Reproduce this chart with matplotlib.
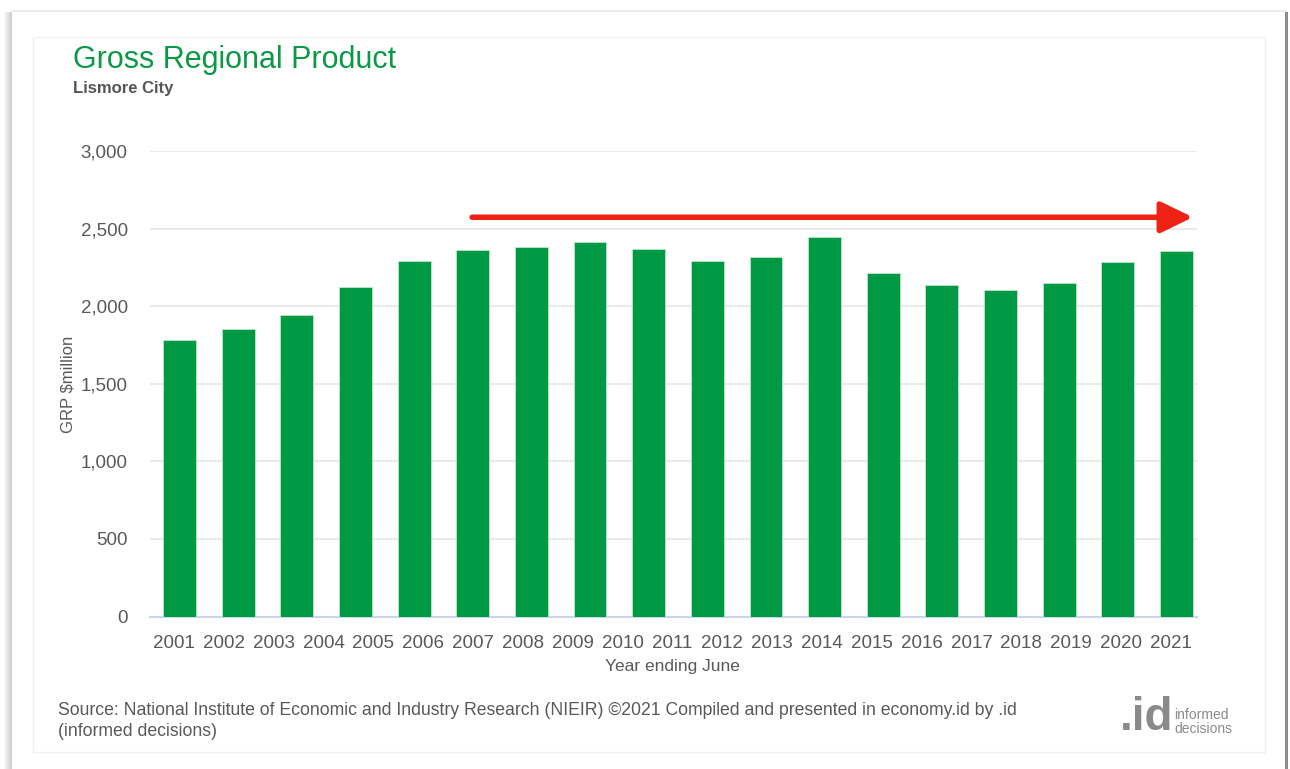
import numpy as np
import matplotlib
matplotlib.use("Agg")
import matplotlib.pyplot as plt
from matplotlib.patches import Rectangle, FancyArrowPatch

# ---- data ----
grp_values = [1785, 1853, 1942, 2125, 2291, 2360, 2381, 2416, 2371, 2291,
              2315, 2448, 2216, 2138, 2106, 2151, 2282, 2358]
year_labels = [str(y) for y in range(2001, 2022)]
y_ticks = [0, 500, 1000, 1500, 2000, 2500, 3000]
y_ticklabels = ["0", "500", "1,000", "1,500", "2,000", "2,500", "3,000"]

title = "Gross Regional Product"
subtitle = "Lismore City"
x_title = "Year ending June"
y_title = "GRP $million"
source = ("Source: National Institute of Economic and Industry Research (NIEIR) \u00a92021 "
          "Compiled and presented in economy.id by .id\n(informed decisions)")

plt.rcParams['font.family'] = ['Liberation Sans', 'DejaVu Sans']

W, H = 1290, 769
fig = plt.figure(figsize=(W / 100, H / 100), dpi=100)
fig.patch.set_facecolor("white")

def fx(px):
    return px / W

def fy(py):
    return 1 - py / H

# ---- card decoration ----
bg = fig.add_axes([0, 0, 1, 1])
bg.set_xlim(0, W)
bg.set_ylim(H, 0)
bg.axis("off")
for i, a in enumerate(np.linspace(0.05, 0.35, 8)):
    bg.add_patch(Rectangle((4 + i, 12), 1, H, color=(0.45, 0.45, 0.45), alpha=a, lw=0))
bg.add_patch(Rectangle((12, 10), 1274, 2, color="#ececec", lw=0))
bg.add_patch(Rectangle((1285, 12), 3, H, color="#8c8c8c", lw=0))
bg.add_patch(Rectangle((33, 37), 1232, 715, fill=False, edgecolor="#f0f0f0", lw=1))

# ---- main axes ----
left, right = 150, 1197
top, bottom = 151, 616.5
ax = fig.add_axes([fx(left), fy(bottom), fx(right - left), fy(top) - fy(bottom)])
ax.set_facecolor("none")

x = np.arange(len(grp_values))
ax.bar(x, grp_values, width=0.56, color="#009944", edgecolor="#bfe5cc",
       linewidth=0.6, zorder=3)

ax.set_xlim(-0.503, 17.35)
ax.set_ylim(0, 3000)
ax.set_yticks(y_ticks)
ax.set_yticklabels(y_ticklabels)
ax.grid(axis="y", color="#e6e6e6", linewidth=1.2, zorder=0)
ax.set_axisbelow(True)

# year labels spread evenly across the axis (as in the reference)
label_pos = np.linspace(-0.094, 16.905, len(year_labels))
ax.set_xticks(label_pos)
ax.set_xticklabels(year_labels)

for s in ["top", "right", "left"]:
    ax.spines[s].set_visible(False)
ax.spines["bottom"].set_color("#ccd6eb")
ax.spines["bottom"].set_linewidth(1.5)
ax.tick_params(axis="y", length=0, pad=16, labelsize=13.5, labelcolor="#595959")
ax.tick_params(axis="x", length=0, pad=13, labelsize=13.5, labelcolor="#595959")

# trend arrow
arr = FancyArrowPatch((4.99, 2573), (17.28, 2573),
                      arrowstyle="-|>,head_length=1.4,head_width=0.68",
                      mutation_scale=14, color="#ee2316", lw=4.0, zorder=5,
                      shrinkA=0, shrinkB=0)
ax.add_patch(arr)

# ---- texts ----
fig.text(fx(73), fy(60), title, color="#0a9a46", fontsize=22, va="center", ha="left")
fig.text(fx(73), fy(88), subtitle, color="#555555", fontsize=12, fontweight="bold",
         va="center", ha="left")
fig.text(fx(672), fy(666), x_title, color="#595959", fontsize=12.5, ha="center", va="center")
fig.text(fx(68), fy(384), y_title, color="#595959", fontsize=12, ha="center", va="center",
         rotation=90)
fig.text(fx(58), fy(721), source, color="#595959", fontsize=12.7, ha="left", va="center",
         linespacing=1.3)

# logo
fig.text(fx(1120), fy(718), ".id", color="#8a8a8a", fontsize=33, fontweight="bold",
         ha="left", va="center")
fig.text(fx(1174), fy(722), "informed\ndecisions", color="#8a8a8a", fontsize=10,
         ha="left", va="center", linespacing=0.95)

fig.savefig("out.png", dpi=100, facecolor="white")
